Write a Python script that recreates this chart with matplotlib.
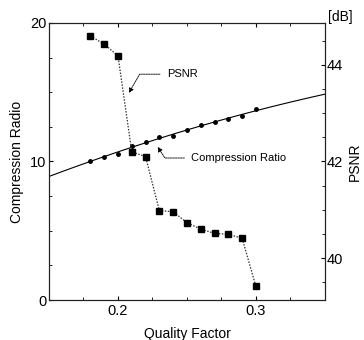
import numpy as np
import matplotlib
matplotlib.use("Agg")
import matplotlib.pyplot as plt
from matplotlib.ticker import MultipleLocator

plt.rcParams['font.family'] = ['Liberation Sans', 'DejaVu Sans']

quality = [0.18, 0.19, 0.20, 0.21, 0.22, 0.23, 0.24, 0.25, 0.26, 0.27, 0.28, 0.29, 0.30]
comp_ratio = [10.06, 10.30, 10.54, 11.14, 11.39, 11.75, 11.86, 12.27, 12.64, 12.87, 13.05, 13.29, 13.77]
psnr = [44.60, 44.43, 44.19, 42.20, 42.10, 40.98, 40.96, 40.73, 40.60, 40.51, 40.49, 40.41, 39.41]

fig = plt.figure(figsize=(3.64, 3.40), dpi=100)
ax = fig.add_axes([0.1346, 0.1176, 0.758, 0.815])
ax2 = ax.twinx()

# compression ratio trend (fit) + points
coef = np.polyfit(quality, comp_ratio, 2)
xf = np.linspace(0.15, 0.35, 100)
ax.plot(xf, np.polyval(coef, xf), color='black', lw=0.8)
ax.plot(quality, comp_ratio, 'o', color='black', ms=2.5)

# PSNR
ax2.plot(quality, psnr, linestyle=(0, (1.2, 1.2)), color='#333333', lw=0.9,
         marker='s', ms=4, mfc='black', mec='black')

ax.set_xlim(0.15, 0.35)
ax.set_ylim(0, 20)
ax2.set_ylim(39.13, 44.87)

ax.xaxis.set_major_locator(MultipleLocator(0.1))
ax.xaxis.set_minor_locator(MultipleLocator(0.025))
ax.yaxis.set_major_locator(MultipleLocator(10))
ax.yaxis.set_minor_locator(MultipleLocator(2.5))
ax2.yaxis.set_major_locator(MultipleLocator(2))
ax2.yaxis.set_minor_locator(MultipleLocator(0.5))

ax.tick_params(axis='x', which='both', direction='in', top=True, bottom=True, labelsize=10.5, pad=3)
ax.tick_params(axis='x', which='major', length=3)
ax.tick_params(axis='x', which='minor', length=2)
ax.tick_params(axis='y', which='major', direction='in', length=3, labelsize=10.5, pad=2)
ax.tick_params(axis='y', which='minor', direction='in', length=2)
ax2.tick_params(axis='y', which='major', direction='in', length=3, labelsize=10.5, pad=1)
ax2.tick_params(axis='y', which='minor', direction='in', length=2)

ax.xaxis.set_major_formatter(plt.FuncFormatter(lambda v, p: f"{v:.1f}" if abs(v - 0.2) < 1e-6 or abs(v - 0.3) < 1e-6 else ""))

for a in (ax, ax2):
    for s in a.spines.values():
        s.set_linewidth(0.8)
        s.set_color('#222222')

ax.set_xlabel('Quality Factor', fontsize=10, labelpad=6)
ax.set_ylabel('Compression Radio', fontsize=10, labelpad=4)
ax2.set_ylabel('PSNR', fontsize=10, labelpad=4)
fig.text(0.9, 0.95, '[dB]', fontsize=10, ha='left', va='center')

arrow_kw = dict(arrowstyle='-|>', color='black', lw=0.6, linestyle=(0, (2, 1)),
                shrinkA=3, shrinkB=0, mutation_scale=7, relpos=(0, 0.5))
ax.annotate('PSNR', xy=(0.2079, 14.95), xytext=(0.2355, 16.3), fontsize=8,
            ha='left', va='center',
            arrowprops=dict(connectionstyle='angle,angleA=0,angleB=60,rad=0', **arrow_kw))
ax.annotate('Compression Ratio', xy=(0.2288, 11.05), xytext=(0.2532, 10.25), fontsize=8,
            ha='left', va='center',
            arrowprops=dict(connectionstyle='angle,angleA=0,angleB=-57,rad=0', **arrow_kw))

fig.savefig('out.png', dpi=100)
